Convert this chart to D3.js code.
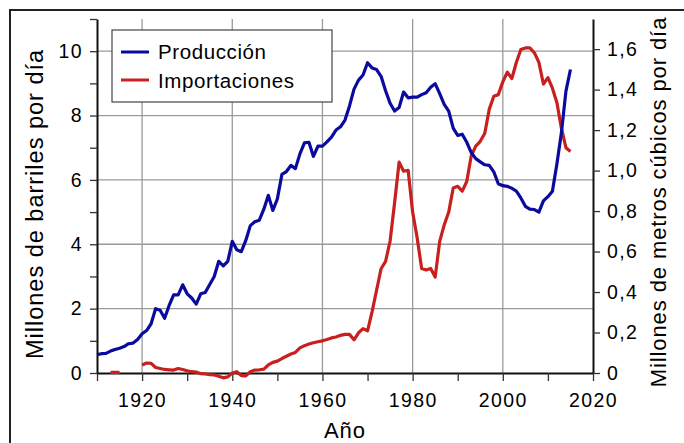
<!DOCTYPE html>
<html>
<head>
<meta charset="utf-8">
<script src="https://cdn.jsdelivr.net/npm/d3@7"></script>
<style>
  body { margin: 0; background: #fff; }
  text { font-family: "Liberation Sans", Arial, sans-serif; fill: #000; }
</style>
</head>
<body>
<div id="chart"></div>
<script>
// years 1910..2015
const years = d3.range(1910, 2016);

// crude oil production, millions of barrels per day
const produccion = [
  0.57, 0.60, 0.61, 0.68, 0.73, 0.77, 0.82, 0.91, 0.93, 1.04,
  1.22, 1.32, 1.53, 2.00, 1.95, 1.70, 2.10, 2.43, 2.43, 2.74,
  2.46, 2.33, 2.14, 2.46, 2.50, 2.75, 3.00, 3.47, 3.33, 3.47,
  4.09, 3.83, 3.77, 4.12, 4.58, 4.70, 4.75, 5.09, 5.52, 5.05,
  5.41, 6.17, 6.26, 6.45, 6.35, 6.81, 7.15, 7.17, 6.73, 7.05,
  7.05, 7.18, 7.33, 7.55, 7.65, 7.86, 8.30, 8.82, 9.10, 9.26,
  9.64, 9.48, 9.43, 9.22, 8.77, 8.38, 8.14, 8.25, 8.73, 8.55,
  8.57, 8.57, 8.65, 8.71, 8.88, 8.99, 8.68, 8.35, 8.14, 7.61,
  7.38, 7.42, 7.17, 6.85, 6.66, 6.56, 6.47, 6.45, 6.25, 5.88,
  5.82, 5.80, 5.74, 5.65, 5.44, 5.18, 5.09, 5.08, 5.00, 5.35,
  5.48, 5.65, 6.50, 7.47, 8.76, 9.43
];

// net imports, millions of barrels per day (null = no data)
const importaciones = [
  null, null, null, 0.02, 0.02, 0.02, null, null, null, null,
  0.25, 0.31, 0.30, 0.17, 0.14, 0.11, 0.10, 0.09, 0.14, 0.11,
  0.07, 0.04, 0.03, -0.02, -0.03, -0.05, -0.06, -0.10, -0.15, -0.12,
  0.00, 0.04, -0.08, -0.09, 0.04, 0.09, 0.10, 0.12, 0.25, 0.33,
  0.37, 0.45, 0.52, 0.59, 0.64, 0.78, 0.85, 0.90, 0.94, 0.97,
  1.00, 1.04, 1.09, 1.12, 1.17, 1.20, 1.20, 1.03, 1.25, 1.38,
  1.31, 1.90, 2.57, 3.24, 3.47, 4.10, 5.29, 6.55, 6.27, 6.30,
  5.00, 4.20, 3.25, 3.20, 3.25, 2.98, 4.09, 4.60, 5.00, 5.75,
  5.80, 5.65, 5.95, 6.75, 7.05, 7.20, 7.45, 8.20, 8.60, 8.65,
  9.05, 9.35, 9.15, 9.65, 10.05, 10.10, 10.10, 9.95, 9.65, 8.98,
  9.18, 8.85, 8.40, 7.60, 7.00, 6.88
];

const seriesNames = ["Producción", "Importaciones"];
const seriesColors = ["#0a0a9e", "#c8201e"];

const leftTicks = d3.range(0, 12, 1);
const rightTicks = [0, 0.2, 0.4, 0.6, 0.8, 1.0, 1.2, 1.4, 1.6];
const xTicks = d3.range(1910, 2021, 10);

const m3PerBarrel = 0.158987;

var width = 684, height = 443;
var plot = {left: 97, right: 593, top: 19, bottom: 373};

const svg = d3.select("#chart")
  .append("svg")
    .attr("width", width)
    .attr("height", height);

// frame of the original image (top and left edges only)
svg.append("path")
  .attr("d", "M10,443 L10,10 L684,10")
  .attr("fill", "none")
  .attr("stroke", "#222")
  .attr("stroke-width", 2);

var x = d3.scaleLinear().domain([1910, 2020]).range([plot.left, plot.right]);
var y = d3.scaleLinear().domain([0, 11]).range([plot.bottom, plot.top]);
var y2 = d3.scaleLinear().domain([0, 11 * m3PerBarrel]).range([plot.bottom, plot.top]);

// grid
const grid = svg.append("g")
  .attr("stroke", "#9a9a9a")
  .attr("stroke-width", 1.3);
grid.selectAll(".gx")
  .data(xTicks.filter(d => d % 20 === 0 && d < 2020))
  .join("line")
    .attr("x1", d => x(d)).attr("x2", d => x(d))
    .attr("y1", plot.top).attr("y2", plot.bottom);
grid.selectAll(".gy")
  .data(leftTicks.filter(d => d % 2 === 0 && d > 0))
  .join("line")
    .attr("x1", plot.left).attr("x2", plot.right)
    .attr("y1", d => y(d)).attr("y2", d => y(d));

const comma = d3.formatLocale({decimal: ",", thousands: ".", grouping: [3], currency: ["", ""]}).format(".1f");

function styleAxis(g) {
  g.select(".domain").attr("stroke", "#111").attr("stroke-width", 2);
  g.selectAll(".tick line").attr("stroke", "#333").attr("stroke-width", 1.3);
  g.selectAll(".tick text")
    .style("font-family", "'Liberation Sans', Arial, sans-serif")
    .style("font-size", "19.5px")
    .style("letter-spacing", "1.4px")
    .attr("fill", "#000");
}

svg.append("g")
  .attr("transform", `translate(0,${plot.bottom})`)
  .call(d3.axisBottom(x).tickValues(xTicks).tickSize(8).tickPadding(12).tickSizeOuter(0)
    .tickFormat(d => d % 20 === 0 ? d : ""))
  .call(styleAxis);

svg.append("g")
  .attr("transform", `translate(${plot.left},0)`)
  .call(d3.axisLeft(y).tickValues(leftTicks).tickSize(7).tickPadding(7).tickSizeOuter(0)
    .tickFormat(d => d % 2 === 0 ? d : ""))
  .call(styleAxis);

svg.append("g")
  .attr("transform", `translate(${plot.right},0)`)
  .call(d3.axisRight(y2).tickValues(rightTicks).tickSize(7).tickPadding(7).tickSizeOuter(0)
    .tickFormat(d => d === 0 ? "0" : comma(d)))
  .call(styleAxis);

// lines
const rows = years.map((yr, i) => ({year: yr, prod: produccion[i], imp: importaciones[i]}));

const lineImp = d3.line()
  .defined(d => d.imp !== null)
  .x(d => x(d.year)).y(d => y(d.imp));
const lineProd = d3.line()
  .x(d => x(d.year)).y(d => y(d.prod));

svg.append("path")
  .datum(rows)
  .attr("fill", "none")
  .attr("stroke", seriesColors[1])
  .attr("stroke-width", 3.2)
  .attr("stroke-linejoin", "round")
  .attr("d", lineImp);

svg.append("path")
  .datum(rows)
  .attr("fill", "none")
  .attr("stroke", seriesColors[0])
  .attr("stroke-width", 3.2)
  .attr("stroke-linejoin", "round")
  .attr("d", lineProd);

// legend
const legend = svg.append("g");
legend.append("rect")
  .attr("x", 112).attr("y", 30)
  .attr("width", 220).attr("height", 72)
  .attr("fill", "#fff")
  .attr("stroke", "#444")
  .attr("stroke-width", 1.2);
seriesNames.forEach((name, i) => {
  legend.append("line")
    .attr("x1", 121).attr("x2", 149)
    .attr("y1", 52 + i * 28).attr("y2", 52 + i * 28)
    .attr("stroke", seriesColors[i])
    .attr("stroke-width", 3);
  legend.append("text")
    .attr("x", 158).attr("y", 59 + i * 29)
    .style("font-size", "20.5px")
    .style("letter-spacing", "0.6px")
    .text(name);
});

// axis titles
svg.append("text")
  .attr("x", (plot.left + plot.right) / 2).attr("y", 438)
  .attr("text-anchor", "middle")
  .style("font-size", "22px")
  .style("letter-spacing", "1px")
  .text("Año");

svg.append("text")
  .attr("transform", "translate(43,204) rotate(-90)")
  .attr("text-anchor", "middle")
  .style("font-size", "23.5px")
  .style("letter-spacing", "1px")
  .text("Millones de barriles por día");

svg.append("text")
  .attr("transform", "translate(666,202) rotate(-90)")
  .attr("text-anchor", "middle")
  .style("font-size", "22px")
  .style("letter-spacing", "0.9px")
  .text("Millones de metros cúbicos por día");
</script>
</body>
</html>
